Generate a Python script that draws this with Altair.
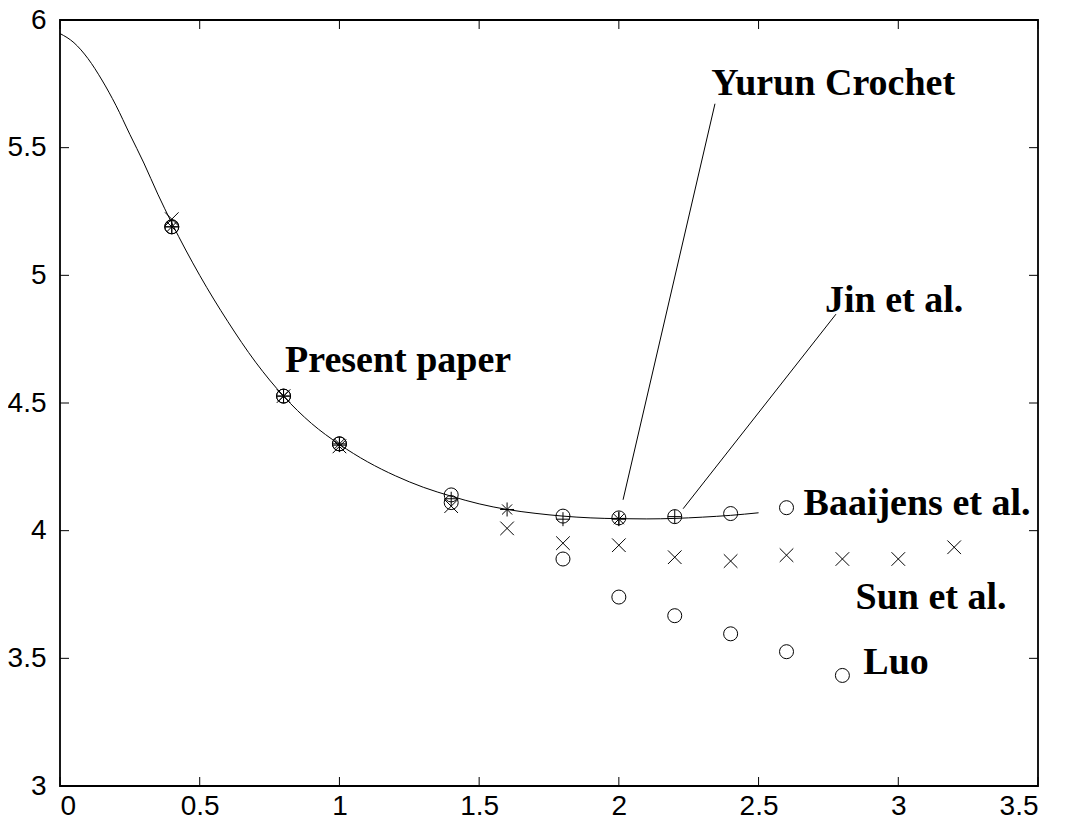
import altair as alt
import pandas as pd

# ---- data ----
curve_x = [0.0, 0.05, 0.1, 0.15, 0.2, 0.25, 0.3, 0.35, 0.4, 0.5, 0.6, 0.7, 0.8, 0.9, 1.0,
           1.1, 1.2, 1.3, 1.4, 1.5, 1.6, 1.7, 1.8, 1.9, 2.0, 2.1, 2.2, 2.3, 2.4, 2.5]
curve_y = [5.947, 5.911, 5.849, 5.765, 5.666, 5.552, 5.44, 5.318, 5.205, 5.0, 4.82, 4.66, 4.527, 4.42, 4.338,
           4.27, 4.215, 4.17, 4.135, 4.105, 4.083, 4.068, 4.057, 4.05, 4.047, 4.046, 4.048, 4.053, 4.06, 4.07]

baaijens_x = [0.4, 0.8, 1.0, 1.4, 1.8, 2.0, 2.2, 2.4, 2.6]
baaijens_y = [5.19, 4.527, 4.34, 4.14, 4.057, 4.05, 4.055, 4.067, 4.09]

jin_x = [0.4, 0.8, 1.0, 1.4, 1.8, 2.0, 2.2]
jin_y = [5.19, 4.527, 4.335, 4.125, 4.045, 4.048, 4.055]

yurun_x = [0.4, 0.8, 1.0, 1.6, 2.0]
yurun_y = [5.19, 4.527, 4.34, 4.083, 4.045]

sun_x = [0.4, 0.8, 1.0, 1.4, 1.6, 1.8, 2.0, 2.2, 2.4, 2.6, 2.8, 3.0, 3.2]
sun_y = [5.22, 4.527, 4.33, 4.096, 4.009, 3.951, 3.943, 3.896, 3.881, 3.904, 3.889, 3.889, 3.935]

luo_x = [0.4, 0.8, 1.0, 1.4, 1.8, 2.0, 2.2, 2.4, 2.6, 2.8]
luo_y = [5.19, 4.527, 4.34, 4.11, 3.889, 3.74, 3.667, 3.596, 3.526, 3.433]

label_text = ["Present paper", "Yurun Crochet", "Jin et al.", "Baaijens et al.", "Sun et al.", "Luo"]
label_x = [1.21, 2.767, 2.985, 3.067, 3.117, 2.992]
label_y = [4.664, 5.75, 4.898, 4.105, 3.738, 3.48]

leader_x = [2.344, 2.777]
leader_y = [5.672, 4.848]
leader_x2 = [2.015, 2.23]
leader_y2 = [4.121, 4.086]

x_ticks = [0, 0.5, 1, 1.5, 2, 2.5, 3, 3.5]
y_ticks = [3, 3.5, 4, 4.5, 5, 5.5, 6]

# ---- layout ----
W, H = 978, 766
TICK = 9

xs = alt.Scale(domain=[0, 3.5], nice=False, zero=False)
ys = alt.Scale(domain=[3, 6], nice=False, zero=False)

ax_x = alt.Axis(values=x_ticks, format="~g", grid=False, domain=False, tickSize=0,
                labelPadding=6, labelFont="Liberation Sans", labelFontSize=28,
                labelColor="black", title=None)
ax_y = alt.Axis(values=y_ticks, format="~g", grid=False, domain=False, tickSize=0,
                labelPadding=14, labelFont="Liberation Sans", labelFontSize=28,
                labelColor="black", title=None)

curve_df = pd.DataFrame({"x": curve_x, "y": curve_y})
curve = alt.Chart(curve_df).mark_line(color="black", strokeWidth=1, interpolate="monotone").encode(
    x=alt.X("x:Q", scale=xs, axis=ax_x),
    y=alt.Y("y:Q", scale=ys, axis=ax_y),
)

CROSS = "M-1,-1L1,1M-1,1L1,-1"
PLUS = "M-1,0L1,0M0,-1L0,1"
STAR = "M-1,0L1,0M0,-1L0,1M-0.72,-0.72L0.72,0.72M-0.72,0.72L0.72,-0.72"


def pts(xv, yv, shape, size):
    df = pd.DataFrame({"x": xv, "y": yv})
    return alt.Chart(df).mark_point(shape=shape, size=size, filled=False, color="black",
                                    strokeWidth=1, opacity=1).encode(
        x=alt.X("x:Q", scale=xs), y=alt.Y("y:Q", scale=ys))


baaijens = pts(baaijens_x, baaijens_y, "circle", 196)
luo = pts(luo_x, luo_y, "circle", 196)
jin = pts(jin_x, jin_y, PLUS, 196)
yurun = pts(yurun_x, yurun_y, STAR, 196)
sun = pts(sun_x, sun_y, CROSS, 185)

lab_df = pd.DataFrame({"t": label_text, "x": label_x, "y": label_y})
labels = alt.Chart(lab_df).mark_text(font="Liberation Serif", fontWeight="bold", fontSize=38,
                                     color="black", align="center", baseline="middle").encode(
    x=alt.X("x:Q", scale=xs), y=alt.Y("y:Q", scale=ys), text="t:N")

lead_df = pd.DataFrame({"x": leader_x, "y": leader_y, "x2": leader_x2, "y2": leader_y2})
leaders = alt.Chart(lead_df).mark_rule(color="black", strokeWidth=1).encode(
    x=alt.X("x:Q", scale=xs), y=alt.Y("y:Q", scale=ys), x2="x2:Q", y2="y2:Q")

xt_df = pd.DataFrame({"v": x_ticks})
yt_df = pd.DataFrame({"v": y_ticks})
tick_bottom = alt.Chart(xt_df).mark_rule(color="black", strokeWidth=1).encode(
    x=alt.X("v:Q", scale=xs), y=alt.value(H), y2=alt.value(H - TICK))
tick_top = alt.Chart(xt_df).mark_rule(color="black", strokeWidth=1).encode(
    x=alt.X("v:Q", scale=xs), y=alt.value(0), y2=alt.value(TICK))
tick_left = alt.Chart(yt_df).mark_rule(color="black", strokeWidth=1).encode(
    y=alt.Y("v:Q", scale=ys), x=alt.value(0), x2=alt.value(TICK))
tick_right = alt.Chart(yt_df).mark_rule(color="black", strokeWidth=1).encode(
    y=alt.Y("v:Q", scale=ys), x=alt.value(W), x2=alt.value(W - TICK))

chart = alt.layer(
    curve, tick_bottom, tick_top, tick_left, tick_right,
    leaders, baaijens, luo, jin, yurun, sun, labels
).properties(
    width=W, height=H,
    autosize=alt.AutoSizeParams(type="none"),
    padding={"left": 52, "top": 12, "right": 21, "bottom": 40},
    background="white",
).configure_view(stroke="black", strokeWidth=1.8)

chart.save("out.html", embed_options={"renderer": "svg", "actions": False})
